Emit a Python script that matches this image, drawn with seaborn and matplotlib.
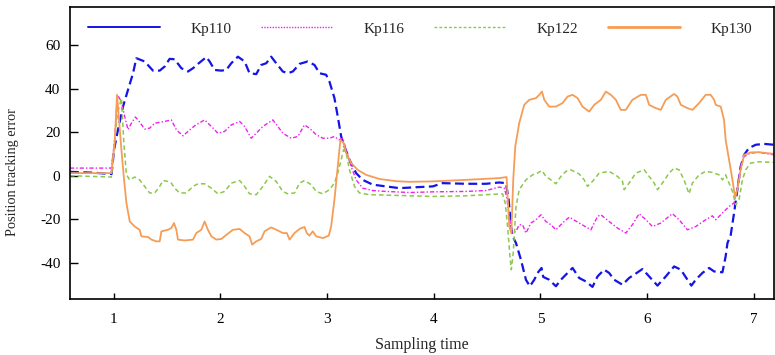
import matplotlib
matplotlib.use("Agg")
import matplotlib.pyplot as plt
from matplotlib.lines import Line2D
import seaborn as sns
import pandas as pd

# ---------------- data ----------------
SERIES_NAMES = ["Kp110", "Kp116", "Kp122", "Kp130"]

KP110 = [(0.59, 1.8), (0.80, 1.4), (0.98, 0.8), (1.003, 11.9), (1.04, 21.1), (1.087, 31.7),
         (1.134, 39.4), (1.181, 47.0), (1.212, 53.9), (1.29, 52.4), (1.368, 48.2), (1.431, 48.2),
         (1.478, 50.1), (1.524, 53.6), (1.571, 53.4), (1.634, 49.3), (1.696, 47.8), (1.743, 49.3),
         (1.79, 51.3), (1.868, 54.4), (1.899, 52.4), (1.946, 48.5), (2.008, 48.2), (2.055, 48.5),
         (2.102, 51.6), (2.164, 54.6), (2.227, 52.4), (2.273, 47.0), (2.336, 46.6), (2.383, 50.8),
         (2.43, 51.6), (2.476, 54.6), (2.523, 51.6), (2.585, 47.8), (2.632, 47.0), (2.679, 47.8),
         (2.742, 51.3), (2.819, 52.4), (2.882, 50.8), (2.929, 47.0), (2.991, 46.3), (3.022, 43.2),
         (3.069, 35.6), (3.10, 27.2), (3.132, 18.0), (3.163, 13.4), (3.21, 7.3), (3.272, 1.2),
         (3.334, -1.9), (3.428, -4.1), (3.553, -4.9), (3.678, -5.7), (3.865, -5.2), (3.99, -4.9),
         (4.083, -3.4), (4.302, -3.7), (4.49, -3.7), (4.614, -3.1), (4.677, -3.4), (4.702, -11.0),
         (4.724, -23.3), (4.739, -27.8), (4.771, -30.9), (4.817, -38.5), (4.864, -47.7), (4.901, -50.7),
         (4.942, -47.7), (4.973, -44.6), (5.01, -42.3), (5.026, -46.4), (5.082, -47.7), (5.145, -50.7),
         (5.192, -47.7), (5.254, -44.6), (5.301, -42.3), (5.363, -46.9), (5.426, -48.5), (5.488, -51.0),
         (5.535, -46.2), (5.597, -43.1), (5.644, -44.6), (5.691, -47.7), (5.769, -50.0), (5.831, -46.9),
         (5.878, -45.4), (5.956, -42.8), (6.019, -46.2), (6.097, -50.4), (6.175, -46.2), (6.253, -41.6),
         (6.316, -43.1), (6.378, -47.7), (6.415, -50.4), (6.456, -47.7), (6.518, -44.6), (6.581, -42.3),
         (6.628, -43.9), (6.706, -44.3), (6.736, -37.0), (6.753, -30.9), (6.784, -27.1), (6.815, -17.1),
         (6.846, -6.4), (6.877, 4.2), (6.909, 9.6), (6.955, 12.7), (7.018, 14.2), (7.096, 14.6),
         (7.19, 14.2)]

KP116 = [(0.59, 3.5), (0.978, 3.5), (1.009, 16.5), (1.035, 37.1), (1.072, 34.0), (1.103, 27.1),
         (1.134, 21.1), (1.166, 24.1), (1.203, 26.9), (1.228, 25.6), (1.29, 21.4), (1.337, 21.8),
         (1.384, 24.1), (1.478, 24.9), (1.54, 25.6), (1.587, 21.1), (1.649, 18.3), (1.696, 20.3),
         (1.758, 22.9), (1.852, 25.6), (1.915, 22.6), (1.977, 19.5), (2.039, 20.3), (2.102, 23.3),
         (2.18, 24.9), (2.227, 22.6), (2.289, 17.2), (2.336, 19.5), (2.398, 22.6), (2.492, 25.6),
         (2.538, 22.6), (2.585, 19.5), (2.664, 17.2), (2.726, 18.0), (2.788, 23.3), (2.835, 21.8),
         (2.898, 18.8), (2.96, 17.2), (3.022, 17.2), (3.069, 18.0), (3.11, 16.5), (3.147, 17.2),
         (3.179, 11.9), (3.226, 4.2), (3.272, -1.9), (3.334, -5.7), (3.428, -6.8), (3.553, -7.2),
         (3.772, -7.7), (3.99, -7.4), (4.302, -7.2), (4.49, -6.8), (4.614, -5.2), (4.661, -5.7),
         (4.683, -9.5), (4.708, -18.7), (4.733, -26.3), (4.771, -25.5), (4.801, -22.5), (4.833, -22.5),
         (4.864, -26.3), (4.911, -21.7), (4.958, -20.2), (5.005, -17.9), (5.051, -21.0), (5.098, -22.5),
         (5.145, -24.8), (5.207, -21.7), (5.27, -19.0), (5.363, -21.7), (5.473, -24.8), (5.535, -18.7),
         (5.566, -17.9), (5.644, -21.0), (5.722, -24.0), (5.8, -26.3), (5.862, -22.5), (5.925, -17.4),
         (5.988, -20.2), (6.05, -23.3), (6.128, -21.7), (6.237, -17.4), (6.3, -20.2), (6.378, -24.8),
         (6.456, -23.3), (6.549, -20.2), (6.612, -18.4), (6.643, -20.2), (6.706, -17.1), (6.768, -14.1),
         (6.815, -12.5), (6.846, -4.9), (6.877, 4.2), (6.909, 8.8), (6.971, 10.4), (7.049, 10.7),
         (7.19, 9.6)]

KP122 = [(0.59, 0.0), (0.978, -0.6), (1.009, 16.5), (1.035, 28.7), (1.072, 35.5), (1.095, 15.0),
         (1.119, 0.5), (1.15, -1.9), (1.197, -0.6), (1.243, -1.9), (1.29, -4.9), (1.337, -7.9),
         (1.384, -7.9), (1.431, -4.9), (1.462, -2.2), (1.508, -2.6), (1.54, -3.4), (1.571, -5.7),
         (1.618, -7.9), (1.681, -7.9), (1.743, -4.9), (1.79, -3.7), (1.852, -3.7), (1.915, -5.7),
         (1.977, -8.3), (2.039, -7.2), (2.102, -3.4), (2.18, -2.2), (2.227, -4.9), (2.273, -8.3),
         (2.336, -8.7), (2.398, -4.9), (2.461, -0.3), (2.523, -2.6), (2.585, -7.2), (2.632, -8.3),
         (2.695, -7.9), (2.742, -3.4), (2.788, -2.2), (2.851, -4.1), (2.898, -7.2), (2.96, -8.3),
         (3.022, -6.4), (3.069, -3.4), (3.1, 1.2), (3.132, 7.3), (3.154, 11.9), (3.179, 10.4),
         (3.21, 2.7), (3.257, -4.9), (3.303, -7.9), (3.397, -8.7), (3.553, -8.9), (3.772, -9.2),
         (3.99, -9.5), (4.302, -9.2), (4.49, -8.7), (4.645, -8.3), (4.67, -12.5), (4.692, -23.3),
         (4.714, -37.0), (4.727, -43.1), (4.745, -35.4), (4.771, -14.1), (4.801, -6.4), (4.864, -1.9),
         (4.926, 0.4), (4.973, 1.2), (5.013, 2.4), (5.051, -0.3), (5.098, -1.9), (5.145, -3.7),
         (5.192, -0.3), (5.239, 2.0), (5.285, 2.7), (5.363, 0.8), (5.41, -1.9), (5.441, -4.9),
         (5.488, -2.6), (5.551, 1.2), (5.644, 2.0), (5.722, -0.3), (5.769, -2.6), (5.785, -6.4),
         (5.831, -3.4), (5.894, 1.2), (5.972, 2.7), (6.019, -0.3), (6.066, -3.4), (6.097, -6.4),
         (6.143, -3.4), (6.206, 1.2), (6.253, 3.5), (6.3, 2.7), (6.346, -1.9), (6.393, -8.3),
         (6.424, -3.4), (6.487, 0.4), (6.549, 2.0), (6.612, 1.5), (6.674, 0.4), (6.706, -1.9),
         (6.736, 0.4), (6.768, -3.4), (6.8, -7.2), (6.831, -13.3), (6.862, -11.0), (6.893, -1.9),
         (6.924, 2.7), (6.971, 5.8), (7.049, 6.4), (7.19, 6.1)]

KP130 = [(0.59, 1.2), (0.978, 1.2), (1.009, 15.0), (1.031, 37.1), (1.05, 25.6), (1.072, 11.9),
         (1.097, -1.9), (1.119, -12.5), (1.15, -21.0), (1.197, -23.3), (1.243, -24.8), (1.259, -27.8),
         (1.321, -28.1), (1.353, -29.3), (1.4, -30.1), (1.431, -30.1), (1.447, -25.5), (1.508, -24.8),
         (1.54, -24.0), (1.565, -21.7), (1.587, -24.8), (1.602, -29.3), (1.665, -29.7), (1.743, -29.3),
         (1.774, -26.3), (1.821, -24.8), (1.852, -21.0), (1.883, -24.8), (1.915, -27.8), (1.962, -29.3),
         (2.008, -29.0), (2.07, -26.6), (2.117, -24.8), (2.18, -24.4), (2.227, -26.3), (2.273, -27.8),
         (2.298, -31.6), (2.336, -30.1), (2.383, -29.0), (2.414, -25.5), (2.476, -23.7), (2.538, -25.1),
         (2.585, -26.3), (2.623, -26.3), (2.648, -29.3), (2.695, -26.3), (2.742, -24.4), (2.788, -23.5),
         (2.81, -26.3), (2.835, -27.5), (2.866, -25.5), (2.898, -27.8), (2.96, -28.6), (3.016, -27.5),
         (3.038, -23.3), (3.069, -11.0), (3.1, 4.2), (3.125, 16.5), (3.154, 15.0), (3.179, 10.4),
         (3.226, 5.8), (3.287, 2.7), (3.366, 0.4), (3.491, -1.5), (3.647, -2.5), (3.772, -2.8),
         (3.99, -2.6), (4.302, -1.9), (4.614, -1.1), (4.683, -0.6), (4.692, -9.5), (4.708, -23.3),
         (4.727, -26.3), (4.745, -1.9), (4.764, 13.4), (4.801, 24.1), (4.848, 32.5), (4.895, 34.8),
         (4.958, 35.6), (4.989, 37.1), (5.014, 38.6), (5.036, 34.8), (5.082, 31.7), (5.145, 31.7),
         (5.207, 33.3), (5.254, 36.3), (5.301, 37.1), (5.348, 35.6), (5.394, 31.7), (5.457, 29.4),
         (5.504, 32.5), (5.566, 34.8), (5.613, 38.6), (5.66, 37.1), (5.707, 34.8), (5.753, 30.2),
         (5.8, 30.2), (5.862, 34.8), (5.941, 37.1), (5.988, 37.1), (6.019, 32.5), (6.081, 31.0),
         (6.128, 30.2), (6.175, 34.8), (6.253, 37.5), (6.284, 36.3), (6.316, 32.5), (6.378, 31.0),
         (6.425, 30.2), (6.487, 33.3), (6.549, 37.1), (6.596, 37.1), (6.628, 34.8), (6.643, 32.5),
         (6.69, 31.7), (6.721, 25.6), (6.736, 16.5), (6.768, 7.3), (6.8, -1.9), (6.824, -10.0),
         (6.846, -6.4), (6.877, 2.7), (6.909, 9.6), (6.971, 10.7), (7.049, 10.8), (7.19, 10.0)]

X_TICKS = [1, 2, 3, 4, 5, 6, 7]
Y_TICKS = [-40, -20, 0, 20, 40, 60]
X_LABEL = "Sampling time"
Y_LABEL = "Position tracking error"

# ---------------- styling ----------------
sns.set_theme(style="ticks")
plt.rcParams["font.family"] = ["Liberation Serif", "DejaVu Serif"]
plt.rcParams["axes.linewidth"] = 1.2

COLORS = {"Kp110": "#1414E6", "Kp116": "#F020F0", "Kp122": "#8CC84B", "Kp130": "#F59D56"}
STYLES = {"Kp110": (0, (4.0, 2.0)), "Kp116": (0, (3, 1.5, 1, 1.5)),
          "Kp122": (0, (3, 2)), "Kp130": "-"}
WIDTHS = {"Kp110": 1.6, "Kp116": 1.0, "Kp122": 1.1, "Kp130": 1.3}
LEGEND_STYLES = {"Kp110": "-", "Kp116": (0, (1, 1)), "Kp122": (0, (2, 1.5)), "Kp130": "-"}
LEGEND_WIDTHS = {"Kp110": 1.4, "Kp116": 1.0, "Kp122": 1.0, "Kp130": 2.0}

fig = plt.figure(figsize=(7.75, 3.55), dpi=100)
ax = fig.add_axes([0.0903, 0.158, 0.9085, 0.823])

data = {"Kp110": KP110, "Kp116": KP116, "Kp122": KP122, "Kp130": KP130}
for name in SERIES_NAMES:
    df = pd.DataFrame(data[name], columns=["t", "v"])
    sns.lineplot(data=df, x="t", y="v", ax=ax, color=COLORS[name], linestyle=STYLES[name],
                 linewidth=WIDTHS[name], estimator=None, sort=False, legend=False)

ax.set_xlim(0.59, 7.19)
ax.set_ylim(-56.5, 77.5)
ax.set_xticks(X_TICKS)
ax.set_yticks(Y_TICKS)
ax.set_xticklabels([str(v) for v in X_TICKS])
ax.set_yticklabels([str(v) for v in Y_TICKS])
ax.tick_params(axis="y", direction="in", length=6, width=1.0, pad=7, labelsize=11, colors="black")
ax.tick_params(axis="x", direction="in", length=4.5, width=1.0, pad=10, labelsize=11, colors="black")
for s in ax.spines.values():
    s.set_color("black")
    s.set_visible(True)

ax.set_xlabel(X_LABEL, fontsize=11.5, labelpad=8)
ax.set_ylabel(Y_LABEL, fontsize=10.3)
ax.yaxis.set_label_coords(-0.0724, 0.435)

handles = [Line2D([], [], color=COLORS[n], linestyle=LEGEND_STYLES[n], linewidth=LEGEND_WIDTHS[n])
           for n in SERIES_NAMES]
ax.legend(handles, SERIES_NAMES, loc="upper left", bbox_to_anchor=(0.008, 0.99), ncol=4,
          frameon=False, fontsize=11, handlelength=4.7, handletextpad=2.0, columnspacing=1.95,
          borderaxespad=0.4)

fig.savefig("out.png", dpi=100)
